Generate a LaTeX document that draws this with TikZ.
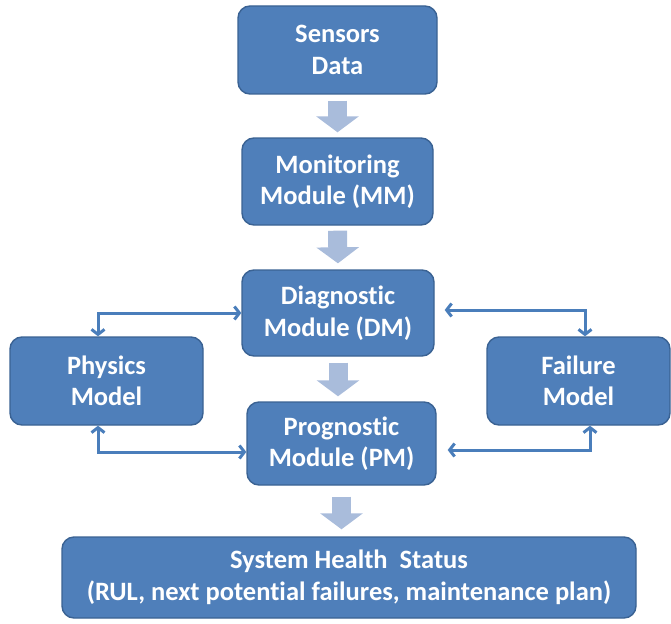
\documentclass[tikz,border=0pt]{standalone}
\usepackage{fontspec}
\setmainfont{Carlito}[Ligatures={NoCommon}]
\usetikzlibrary{arrows.meta,calc}
\definecolor{boxfill}{HTML}{4F7FBA}
\definecolor{boxline}{HTML}{3A6293}
\definecolor{connc}{HTML}{4A7EBB}
\definecolor{blockc}{HTML}{A9BCDB}
\begin{document}
\begin{tikzpicture}[x=1pt,y=-1pt,
  box/.style={draw=boxline, line width=1.4pt, fill=boxfill, rounded corners=12pt,
    text=white, font=\fontsize{26.5}{31.5}\selectfont\bfseries, align=center, inner sep=0pt},
  conn/.style={draw=connc, line width=3pt, {Straight Barb[length=5pt,width=13pt]}-{Straight Barb[length=5pt,width=13pt]}},
  blockarrow/.style={draw=blockc, line width=19pt, -{Triangle[length=16pt,width=42pt]}}]
\useasboundingbox (0,0) rectangle (671,623);
\node[box, minimum width=199pt, minimum height=88pt] (sd) at (337.5,50) {Sensors\\Data};
\node[box, minimum width=191pt, minimum height=87pt] (mm) at (337.5,181.5) {Monitoring\\Module (MM)};
\node[box, minimum width=192pt, minimum height=86pt] (dm) at (338,313) {Diagnostic\\Module (DM)};
\node[box, minimum width=189pt, minimum height=83pt] (pm) at (341.5,443.5) {Prognostic\\Module (PM)};
\node[box, minimum width=574pt, minimum height=81pt] (sys) at (349,577.5) {System Health~~Status\\(RUL, next potential failures, maintenance plan)};
\node[box, minimum width=193pt, minimum height=88pt] (phys) at (106.5,381) {Physics\\Model};
\node[box, minimum width=183pt, minimum height=88pt] (fm) at (578.5,381) {Failure\\Model};
% block arrows
\draw[blockarrow, shorten <=6pt, shorten >=5pt] (sd.south) -- (mm.north);
\draw[blockarrow, shorten <=5pt, shorten >=6pt] (mm.south) -- (dm.north);
\draw[blockarrow, shorten <=6pt, shorten >=5pt] (dm.south) -- (dm.south |- pm.north);
\draw[blockarrow, shorten <=11pt, shorten >=7pt] (pm.south) -- (pm.south |- sys.north);
% connectors
\coordinate (pTop) at ($(phys.north)+(-8.5,0)$);
\coordinate (pBot) at ($(phys.south)+(-8.5,0)$);
\coordinate (fTop) at ($(fm.north)+(6.5,0)$);
\coordinate (fBot) at ($(fm.south)+(11.5,0)$);
\coordinate (dmW) at ($(dm.west)+(0,0)$);
\coordinate (dmE) at ($(dm.east)+(0,-3)$);
\coordinate (pmW) at ($(pm.west)+(0,8.5)$);
\coordinate (pmE) at ($(pm.east)+(0,6.5)$);
\draw[conn] (pTop) |- (dmW);
\draw[conn] (pBot) |- (pmW);
\draw[conn, shorten >=10pt] (fTop) |- (dmE);
\draw[conn, shorten >=11pt] (fBot) |- (pmE);
\end{tikzpicture}
\end{document}
